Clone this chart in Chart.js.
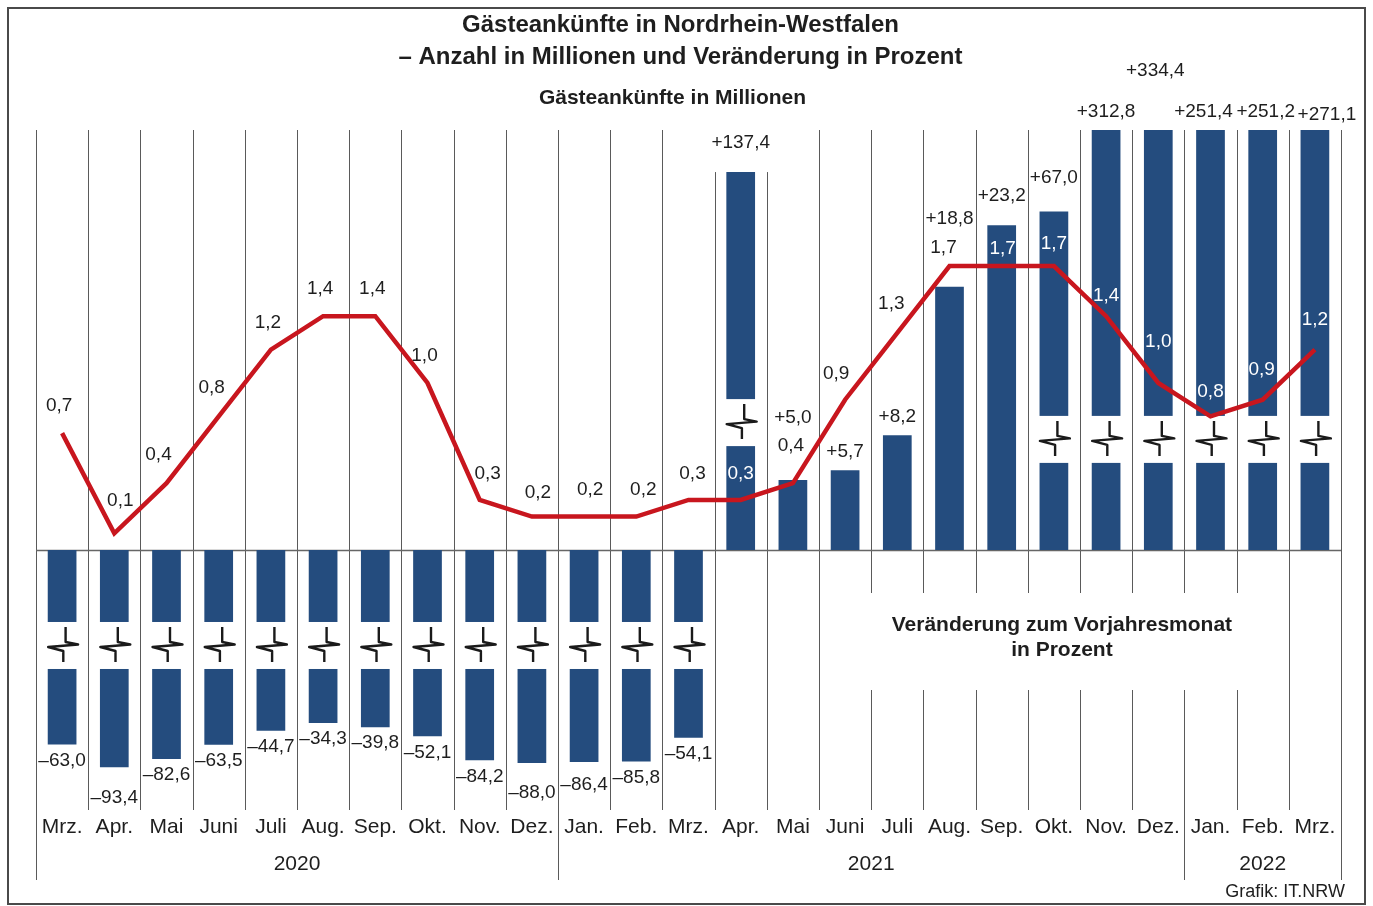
<!DOCTYPE html>
<html><head><meta charset="utf-8">
<script src="https://cdn.jsdelivr.net/npm/chart.js@4.4.1/dist/chart.umd.min.js"></script>
<style>html,body{margin:0;padding:0;background:#fff;}canvas{display:block;}</style>
</head><body>
<canvas id="c" width="1373" height="906"></canvas>
<script>
// ---------------- data ----------------
const months = ['Mrz.','Apr.','Mai','Juni','Juli','Aug.','Sep.','Okt.','Nov.','Dez.','Jan.','Feb.','Mrz.','Apr.','Mai','Juni','Juli','Aug.','Sep.','Okt.','Nov.','Dez.','Jan.','Feb.','Mrz.'];
const years = ['2020','2021','2022'];
const monthsPerYear = [10, 12, 3];
// Veränderung zum Vorjahresmonat in Prozent
const changePct = [-63.0,-93.4,-82.6,-63.5,-44.7,-34.3,-39.8,-52.1,-84.2,-88.0,-86.4,-85.8,-54.1,137.4,5.0,5.7,8.2,18.8,23.2,67.0,312.8,334.4,251.4,251.2,271.1];
// Gästeankünfte in Millionen
const arrivalsMio = [0.7,0.1,0.4,0.8,1.2,1.4,1.4,1.0,0.3,0.2,0.2,0.2,0.3,0.3,0.4,0.9,1.3,1.7,1.7,1.7,1.4,1.0,0.8,0.9,1.2];

// ---------------- styling ----------------
const FONT = "'Liberation Sans', Arial, Helvetica, sans-serif";
const TXT = '#1e1e1e';
const BAR = '#244c7e';
const RED = '#c8161e';
const GRID = '#5a5a5a';

// broken-axis mapping (percent -> drawing units; 1 unit = 1 % on the unbroken part)
const BRK = { negBase: 10.54, negSlope: 0.0532, posLimit: 25, posBase: 22.5, posSlope: 0.04 };
function brokenMap(v) {
  if (v < 0) return -(BRK.negBase + BRK.negSlope * Math.abs(v));
  if (v <= BRK.posLimit) return v;
  return BRK.posBase + BRK.posSlope * (v - BRK.posLimit);
}
function isBroken(v) { return v < 0 || v > BRK.posLimit; }

class BrokenLinearScale extends Chart.LinearScale {
  getPixelForValue(value) { return super.getPixelForValue(brokenMap(value)); }
  getPixelForUnit(u) { return super.getPixelForValue(u); }
}
BrokenLinearScale.id = 'brokenLinear';
BrokenLinearScale.defaults = Chart.LinearScale.defaults;
Chart.register(BrokenLinearScale);

const Y_MIN = -18.571, Y_MAX = 30;
const UNITS_PER_MIO = 11.93;

function fmt(v, signed) {
  const s = Math.abs(v).toFixed(1).replace('.', ',');
  if (!signed) return s;
  return (v < 0 ? '\u2013' : '+') + s;
}

const labelOpts = {
  negGap: 16, posGap: 18,
  negExtra: {1: 15, 9: 14, 10: 7},
  posExtra: {13: 11, 14: 44, 17: 50, 18: 11, 19: 16, 21: 41, 24: -3},
  posDx: {21: -3, 22: -7, 23: 3, 24: 12},
  lineDefault: [-3, -27],
  lineOff: {1:[6,-33],2:[-8,-28],3:[-7,-29],8:[8,-26],9:[6,-24],10:[6,-27],11:[7,-27],12:[4,-26],13:[0,-26],14:[-2,-37],15:[-9,-26],16:[-6,-29],17:[-6,-18],18:[1,-17],19:[0,-22],20:[0,-20],21:[0,-41],22:[0,-25],23:[-1,-30],24:[0,-30]},
  breakNeg: -6.82, breakPos: 7.9, breakPosOverride: {13: 9.1}
};

function text(ctx, s, x, y, font, color, align) {
  ctx.font = font; ctx.fillStyle = color || TXT;
  ctx.textAlign = align || 'center'; ctx.textBaseline = 'middle';
  ctx.fillText(s, x, y);
}

function breakSymbol(ctx, cx, cy, w) {
  ctx.fillStyle = '#fff';
  ctx.fillRect(cx - w / 2 - 1, cy - 23.5, w + 2, 47);
  ctx.beginPath();
  ctx.moveTo(cx + 3.5, cy - 18.5);
  ctx.lineTo(cx + 3.5, cy - 3.5);
  ctx.lineTo(cx + 16, cy - 1);
  ctx.lineTo(cx - 14, cy + 1.5);
  ctx.lineTo(cx + 1.2, cy + 5.5);
  ctx.lineTo(cx + 1.2, cy + 16.5);
  ctx.strokeStyle = '#1a1a1a'; ctx.lineWidth = 2.4;
  ctx.lineJoin = 'round'; ctx.lineCap = 'butt';
  ctx.stroke();
}

const VAL_FONT = '19px ' + FONT;

const deco = {
  id: 'deco',
  beforeDraw(chart) {
    const c = chart.ctx; c.save(); c.fillStyle = '#fff'; c.fillRect(0, 0, chart.width, chart.height); c.restore();
  },
  beforeDatasetsDraw(chart) {
    const {ctx, chartArea: ca, scales: {x, y}} = chart;
    const zero = y.getPixelForValue(0);
    const bounds = [0]; let acc = 0; monthsPerYear.forEach(n => { acc += n; bounds.push(acc); });
    ctx.save();
    ctx.strokeStyle = GRID; ctx.lineWidth = 1;
    for (let k = 0; k <= months.length; k++) {
      const px = Math.round(x.getPixelForValue(k - 0.5)) + 0.5;
      const bottom = bounds.includes(k) ? ca.bottom + 70 : ca.bottom;
      ctx.beginPath();
      if (k >= 16 && k <= 23) {
        ctx.moveTo(px, ca.top); ctx.lineTo(px, zero + 43);
        ctx.moveTo(px, zero + 140); ctx.lineTo(px, bottom);
      } else {
        ctx.moveTo(px, ca.top); ctx.lineTo(px, bottom);
      }
      ctx.stroke();
    }
    // zero line
    ctx.strokeStyle = '#666'; ctx.lineWidth = 1.5;
    ctx.beginPath(); ctx.moveTo(ca.left, Math.round(zero) + 0.5); ctx.lineTo(ca.right, Math.round(zero) + 0.5); ctx.stroke();
    // white mask below wide labels that sit inside the plot
    const meta = chart.getDatasetMeta(0);
    const colW = x.getPixelForValue(1) - x.getPixelForValue(0);
    ctx.font = VAL_FONT;
    changePct.forEach((v, i) => {
      if (v <= 0) return;
      const bar = meta.data[i];
      const top = Math.max(bar.y, ca.top);
      const ly = top - labelOpts.posGap - (labelOpts.posExtra[i] || 0);
      const w = ctx.measureText(fmt(v, true)).width;
      if (ly > ca.top && w > colW) {
        const lx = bar.x + (labelOpts.posDx[i] || 0);
        ctx.fillStyle = '#fff';
        ctx.fillRect(lx - w / 2 - 2, ca.top, w + 4, top - ca.top);
      }
    });
    ctx.restore();
  },
  afterDatasetDraw(chart, args) {
    if (args.index !== 0) return;
    const {ctx, scales: {y}} = chart;
    const meta = chart.getDatasetMeta(0);
    ctx.save();
    changePct.forEach((v, i) => {
      if (!isBroken(v)) return;
      const bar = meta.data[i];
      const u = v < 0 ? labelOpts.breakNeg : (labelOpts.breakPosOverride[i] || labelOpts.breakPos);
      breakSymbol(ctx, bar.x, y.getPixelForUnit(u), bar.width);
    });
    ctx.restore();
  },
  afterDatasetsDraw(chart) {
    const {ctx, chartArea: ca, scales: {x, y}} = chart;
    const bars = chart.getDatasetMeta(0).data;
    const pts = chart.getDatasetMeta(1).data;
    const zero = y.getPixelForValue(0);
    ctx.save();
    // bar value labels
    changePct.forEach((v, i) => {
      const bar = bars[i];
      if (v < 0) {
        text(ctx, fmt(v, true), bar.x, bar.y + labelOpts.negGap + (labelOpts.negExtra[i] || 0), VAL_FONT);
      } else {
        const top = Math.max(bar.y, ca.top);
        text(ctx, fmt(v, true), bar.x + (labelOpts.posDx[i] || 0), top - labelOpts.posGap - (labelOpts.posExtra[i] || 0), VAL_FONT);
      }
    });
    // line value labels
    arrivalsMio.forEach((v, i) => {
      const p = pts[i];
      const off = labelOpts.lineOff[i] || labelOpts.lineDefault;
      const lx = p.x + off[0], ly = p.y + off[1];
      const bar = bars[i];
      const barTop = Math.max(bar.y, ca.top);
      const inside = changePct[i] > 0 && ly - 6 > barTop && ly < zero;
      text(ctx, fmt(v, false), lx, ly, VAL_FONT, inside ? '#ffffff' : TXT);
    });
    // lower annotation
    const l = x.getPixelForValue(15.5), r = x.getPixelForValue(22.5);
    const cx = (l + r) / 2 + 8;
    text(ctx, 'Veränderung zum Vorjahresmonat', cx, zero + 75, 'bold 21px ' + FONT);
    text(ctx, 'in Prozent', cx, zero + 100, 'bold 21px ' + FONT);
    // years
    let start = 0;
    years.forEach((yr, j) => {
      const end = start + monthsPerYear[j] - 1;
      const px = (x.getPixelForValue(start) + x.getPixelForValue(end)) / 2;
      text(ctx, yr, px, ca.bottom + 54, '21px ' + FONT);
      start = end + 1;
    });
    // titles
    const mid = (ca.left + ca.right) / 2;
    text(ctx, 'Gästeankünfte in Nordrhein-Westfalen', mid - 8, 25, 'bold 24px ' + FONT);
    text(ctx, '– Anzahl in Millionen und Veränderung in Prozent', mid - 8, 57, 'bold 24px ' + FONT);
    text(ctx, 'Gästeankünfte in Millionen', mid - 16, 98, 'bold 21px ' + FONT);
    text(ctx, 'Grafik: IT.NRW', ca.right + 4, 892, '18px ' + FONT, TXT, 'right');
    // frame
    ctx.strokeStyle = '#4a4a4a'; ctx.lineWidth = 2;
    ctx.strokeRect(8, 8, chart.width - 16, chart.height - 10);
    ctx.restore();
  }
};

Chart.defaults.font.family = FONT;
Chart.defaults.color = TXT;

new Chart(document.getElementById('c'), {
  type: 'bar',
  data: {
    labels: months,
    datasets: [
      { type: 'bar', data: changePct, yAxisID: 'y', backgroundColor: BAR, borderWidth: 0,
        barPercentage: 0.55, categoryPercentage: 1, order: 2 },
      { type: 'line', data: arrivalsMio, yAxisID: 'y2', borderColor: RED, borderWidth: 4.5,
        pointRadius: 0, tension: 0, fill: false, order: 1 }
    ]
  },
  options: {
    responsive: false, animation: false, devicePixelRatio: 1,
    layout: { padding: { left: 36, right: 32, top: 130, bottom: 26 } },
    plugins: { legend: { display: false }, tooltip: { enabled: false }, title: { display: false } },
    scales: {
      x: {
        grid: { display: false, drawTicks: false }, border: { display: false },
        ticks: { autoSkip: false, maxRotation: 0, minRotation: 0, padding: 5, color: TXT, font: { family: FONT, size: 21 } },
        afterFit(s) { s.height = 70; }
      },
      y: { type: 'brokenLinear', display: false, min: Y_MIN, max: Y_MAX },
      y2: { type: 'linear', display: false, min: Y_MIN / UNITS_PER_MIO, max: Y_MAX / UNITS_PER_MIO }
    }
  },
  plugins: [deco]
});
</script>
</body></html>
